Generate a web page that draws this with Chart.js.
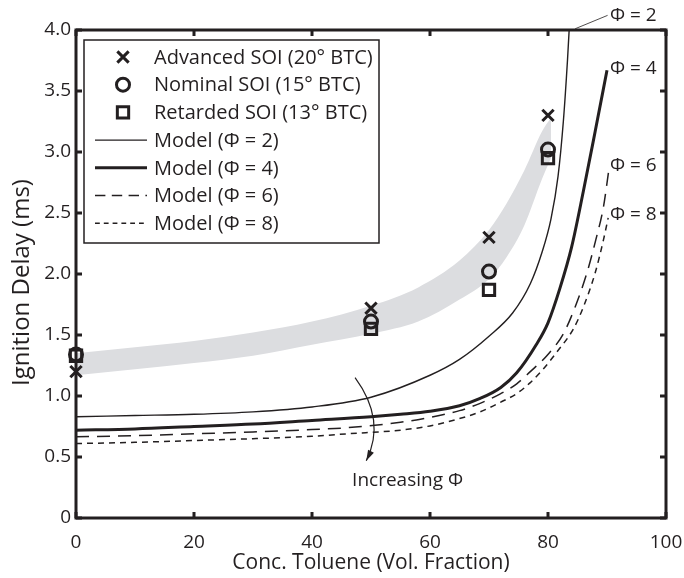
<!DOCTYPE html>
<html>
<head>
<meta charset="utf-8">
<script src="https://cdn.jsdelivr.net/npm/chart.js@4.4.1/dist/chart.umd.min.js"></script>
<style>
    body { margin: 0; background: #fff; }
    #wrap { width: 684px; height: 578px; }
</style>
</head>
<body>
<div id="wrap"><canvas id="delayChart" width="684" height="578"></canvas></div>
<script>
// ---- measured ignition delay (ms) vs toluene fraction ----
const toluene = [0, 50, 70, 80];
const advancedSOI = [1.20, 1.72, 2.30, 3.30];
const nominalSOI = [1.34, 1.61, 2.02, 3.02];
const retardedSOI = [1.33, 1.55, 1.87, 2.95];

// ---- grey band around the measurements ----
const bandX = [0, 10, 20, 30, 40, 50, 58, 65, 70, 73, 76, 79, 80.5];
const bandUpper = [1.35, 1.40, 1.45, 1.52, 1.61, 1.74, 1.89, 2.11, 2.36, 2.58, 2.85, 3.17, 3.28];
const bandLower = [1.17, 1.22, 1.27, 1.33, 1.42, 1.51, 1.61, 1.79, 1.96, 2.14, 2.40, 2.78, 2.95];

// ---- model curves ----
const phi2X = [0, 10, 20, 30, 40, 50, 60, 65, 70, 74, 77, 79, 80.5, 81.7, 82.6, 83.3, 83.7, 84.1];
const phi2Y = [0.83, 0.84, 0.85, 0.87, 0.91, 0.99, 1.17, 1.30, 1.49, 1.68, 1.92, 2.18, 2.45, 2.80, 3.25, 3.75, 4.10, 4.50];
const phi4X = [0, 10, 20, 30, 40, 50, 55, 60, 65, 68.5, 72, 74.7, 78, 80, 82, 84, 86, 88, 90];
const phi4Y = [0.72, 0.73, 0.75, 0.77, 0.80, 0.83, 0.85, 0.875, 0.92, 0.98, 1.07, 1.19, 1.42, 1.60, 1.88, 2.22, 2.68, 3.17, 3.67];
const phi6X = [0, 10, 20, 30, 40, 46, 55, 60, 65, 68.5, 72, 74.7, 77, 79.8, 82.6, 84.6, 86.6, 88.1, 89.4, 90.3];
const phi6Y = [0.665, 0.675, 0.69, 0.705, 0.725, 0.74, 0.785, 0.825, 0.88, 0.94, 1.02, 1.10, 1.20, 1.33, 1.51, 1.73, 2.01, 2.28, 2.55, 2.85];
const phi8X = [0, 10, 20, 30, 40, 46, 55, 60, 65, 68.5, 72, 74.7, 77, 79, 81.5, 84.3, 86, 88, 89.4, 90.2];
const phi8Y = [0.61, 0.62, 0.635, 0.65, 0.67, 0.69, 0.72, 0.755, 0.815, 0.87, 0.95, 1.02, 1.11, 1.21, 1.36, 1.55, 1.73, 2.01, 2.28, 2.46];

// ---- axes ----
const xTicks = [0, 20, 40, 60, 80, 100];
const yTicks = [0, 0.5, 1.0, 1.5, 2.0, 2.5, 3.0, 3.5, 4.0];

const INK = "#231f20";
const FONT = "'Open Sans', sans-serif";

Chart.defaults.font.family = FONT;
Chart.defaults.color = INK;

function pairs(xs, ys) {
    return xs.map((x, i) => ({ x: x, y: ys[i] }));
}

const markerSet = (label, ys, style, radius, width) => ({
    label: label,
    data: pairs(toluene, ys),
    showLine: false,
    pointStyle: style,
    pointRadius: radius,
    pointBorderWidth: width,
    pointBorderColor: INK,
    pointBackgroundColor: "rgba(0,0,0,0)",
    clip: false,
    order: 1
});

const modelSet = (label, xs, ys, width, dash) => ({
    label: label,
    data: pairs(xs, ys),
    showLine: true,
    borderColor: INK,
    borderWidth: width,
    borderDash: dash,
    pointRadius: 0,
    cubicInterpolationMode: "monotone",
    clip: 0,
    order: 2
});

const datasets = [
    markerSet("Advanced SOI (20° BTC)", advancedSOI, "crossRot", 8, 3),
    markerSet("Nominal SOI (15° BTC)", nominalSOI, "circle", 6.5, 3),
    markerSet("Retarded SOI (13° BTC)", retardedSOI, "rect", 8, 3),
    modelSet("Model (Φ = 2)", phi2X, phi2Y, 1.4, []),
    modelSet("Model (Φ = 4)", phi4X, phi4Y, 3, []),
    modelSet("Model (Φ = 6)", phi6X, phi6Y, 1.5, [13, 8]),
    modelSet("Model (Φ = 8)", phi8X, phi8Y, 1.5, [6, 5]),
    {
        // band top, filled down to the next dataset
        data: pairs(bandX, bandUpper),
        showLine: true,
        borderWidth: 0,
        pointRadius: 0,
        cubicInterpolationMode: "monotone",
        backgroundColor: "#dcdde0",
        fill: "+1",
        order: 3
    },
    {
        data: pairs(bandX, bandLower),
        showLine: true,
        borderWidth: 0,
        pointRadius: 0,
        cubicInterpolationMode: "monotone",
        fill: false,
        order: 3
    }
];

// frame with inward tick marks on all four sides
const framePlugin = {
    id: "frame",
    afterDatasetsDraw(chart) {
        const { ctx, chartArea: a, scales: { x, y } } = chart;
        const len = 6;
        ctx.save();
        ctx.strokeStyle = INK;
        ctx.lineWidth = 3;
        ctx.strokeRect(a.left, a.top, a.right - a.left, a.bottom - a.top);
        ctx.beginPath();
        xTicks.forEach(v => {
            const px = x.getPixelForValue(v);
            ctx.moveTo(px, a.bottom); ctx.lineTo(px, a.bottom - len);
            ctx.moveTo(px, a.top); ctx.lineTo(px, a.top + len);
        });
        yTicks.forEach(v => {
            const py = y.getPixelForValue(v);
            ctx.moveTo(a.left, py); ctx.lineTo(a.left + len, py);
            ctx.moveTo(a.right, py); ctx.lineTo(a.right - len, py);
        });
        ctx.stroke();
        ctx.restore();
    }
};

// y title, curve labels, "Increasing Φ" arrow and the legend box
const notesPlugin = {
    id: "notes",
    afterDraw(chart) {
        const { ctx, scales: { x, y } } = chart;
        const X = v => x.getPixelForValue(v);
        const Y = v => y.getPixelForValue(v);
        ctx.save();
        ctx.fillStyle = INK;
        ctx.strokeStyle = INK;
        ctx.textBaseline = "middle";

        // y axis title, sitting a little below the plot centre
        ctx.save();
        ctx.font = "24px " + FONT;
        ctx.textAlign = "center";
        ctx.translate(22, Y(1.93));
        ctx.rotate(-Math.PI / 2);
        ctx.fillText("Ignition Delay (ms)", 0, 0);
        ctx.restore();

        ctx.font = "19px " + FONT;
        ctx.textAlign = "left";

        // leader for the phi = 2 tag
        ctx.lineWidth = 0.8;
        ctx.beginPath();
        ctx.moveTo(X(84.6), Y(4.01));
        ctx.lineTo(X(90.1), Y(4.12));
        ctx.stroke();
        ctx.fillText("Φ = 2", X(90.5), Y(4.12));
        ctx.fillText("Φ = 4", X(90.5), Y(3.68));
        ctx.fillText("Φ = 6", X(90.5), Y(2.89));
        ctx.fillText("Φ = 8", X(90.5), Y(2.49));

        // curved arrow across the model curves
        const sx = X(47.3), sy = Y(1.15);
        const cx = X(52.6), cy = Y(0.80);
        const ex = X(49.2), ey = Y(0.47);
        ctx.lineWidth = 1.2;
        ctx.beginPath();
        ctx.moveTo(sx, sy);
        ctx.quadraticCurveTo(cx, cy, ex, ey);
        ctx.stroke();
        const ang = Math.atan2(ey - cy, ex - cx);
        const head = 11, spread = 0.3;
        ctx.beginPath();
        ctx.moveTo(ex, ey);
        ctx.lineTo(ex - head * Math.cos(ang - spread), ey - head * Math.sin(ang - spread));
        ctx.lineTo(ex - head * Math.cos(ang + spread), ey - head * Math.sin(ang + spread));
        ctx.closePath();
        ctx.fill();
        ctx.fillText("Increasing Φ", X(46.8), Y(0.31));

        // legend
        const boxL = 84, boxT = 40, boxW = 295, boxH = 203;
        ctx.fillStyle = "#fff";
        ctx.fillRect(boxL, boxT, boxW, boxH);
        ctx.lineWidth = 1.5;
        ctx.strokeRect(boxL, boxT, boxW, boxH);
        ctx.font = "20px " + FONT;
        const rowH = 27.7;
        chart.data.datasets.forEach((ds, i) => {
            if (!ds.label) return;
            const ry = boxT + 17 + i * rowH;
            if (ds.showLine) {
                ctx.save();
                ctx.lineWidth = ds.borderWidth;
                ctx.setLineDash(ds.borderDash.length ? ds.borderDash.map(d => d * 0.8) : []);
                ctx.beginPath();
                ctx.moveTo(95, ry);
                ctx.lineTo(147, ry);
                ctx.stroke();
                ctx.restore();
            } else {
                ctx.save();
                ctx.fillStyle = "rgba(0,0,0,0)";
                ctx.lineWidth = ds.pointBorderWidth;
                Chart.helpers.drawPoint(ctx, {
                    pointStyle: ds.pointStyle,
                    radius: ds.pointRadius,
                    rotation: 0,
                    borderWidth: ds.pointBorderWidth
                }, 123, ry);
                ctx.restore();
            }
            ctx.fillStyle = INK;
            ctx.fillText(ds.label, 154, ry + 1);
        });
        ctx.restore();
    }
};

new Chart(document.getElementById("delayChart"), {
    type: "scatter",
    data: { datasets: datasets },
    options: {
        responsive: false,
        animation: false,
        devicePixelRatio: 1,
        layout: { padding: { top: 30, right: 18, left: 0, bottom: 0 } },
        plugins: {
            legend: { display: false },
            tooltip: { enabled: false },
            filler: { propagate: false }
        },
        scales: {
            x: {
                type: "linear",
                min: 0,
                max: 100,
                afterBuildTicks: s => { s.ticks = xTicks.map(v => ({ value: v })); },
                afterFit: s => { s.height = 60; s.paddingLeft = 0; s.paddingRight = 0; },
                grid: { display: false, drawTicks: false },
                border: { display: false },
                ticks: { padding: 13, font: { size: 19 }, maxRotation: 0 },
                title: {
                    display: true,
                    text: "Conc. Toluene (Vol. Fraction)",
                    font: { size: 21 },
                    padding: { top: 0, bottom: 2 }
                }
            },
            y: {
                type: "linear",
                min: 0,
                max: 4,
                afterBuildTicks: s => { s.ticks = yTicks.map(v => ({ value: v })); },
                afterFit: s => { s.width = 76; s.paddingTop = 0; s.paddingBottom = 0; },
                grid: { display: false, drawTicks: false },
                border: { display: false },
                ticks: {
                    padding: 5,
                    font: { size: 19 },
                    callback: v => (v === 0 ? "0" : v.toFixed(1))
                }
            }
        }
    },
    plugins: [framePlugin, notesPlugin]
});
</script>
</body>
</html>
